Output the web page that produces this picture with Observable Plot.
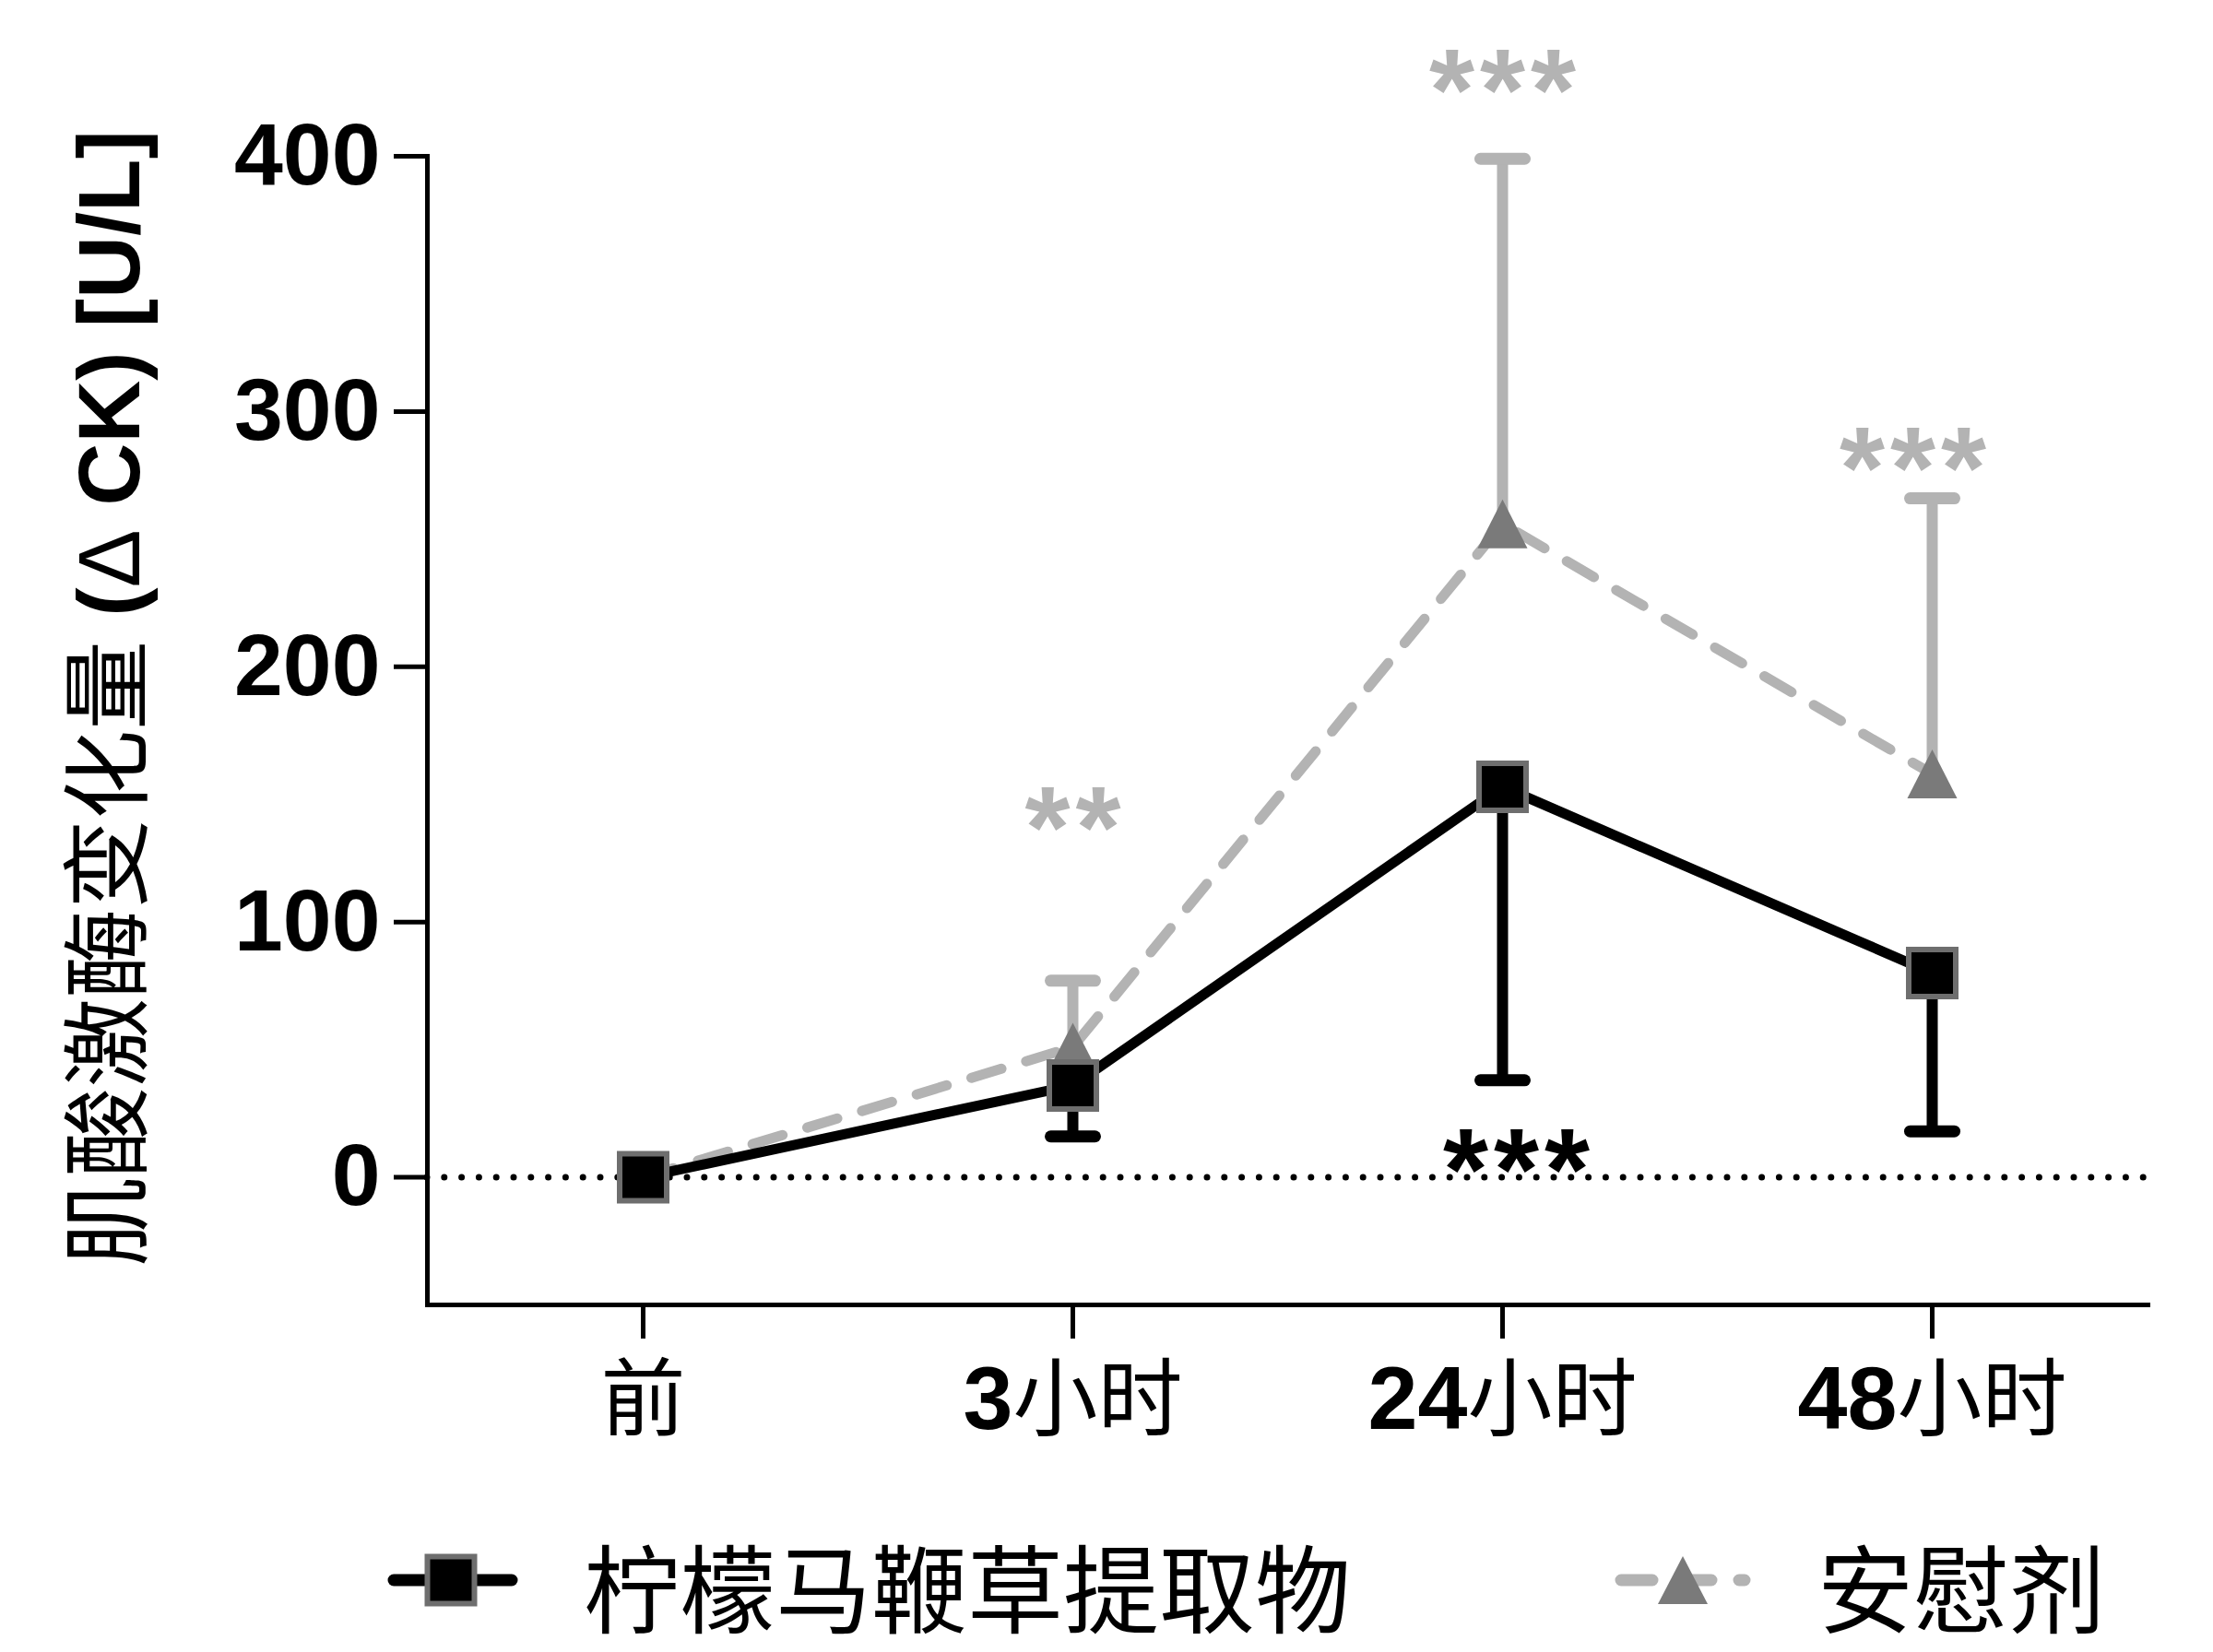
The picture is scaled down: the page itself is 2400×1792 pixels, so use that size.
<!DOCTYPE html>
<html><head><meta charset="utf-8">
<script src="https://cdn.jsdelivr.net/npm/d3@7"></script>
<script src="https://cdn.jsdelivr.net/npm/@observablehq/plot@0.6"></script>
<style>
html,body{margin:0;padding:0;background:#fff;}
#chart svg{display:block;}
</style></head><body><div id="chart"></div><script>
// ---- data ----
const timepoints = ["前", "3小时", "24小时", "48小时"];
const seriesNames = ["柠檬马鞭草提取物", "安慰剂"];
const lemonMean = [0, 36, 153, 80];
const lemonLower = [null, 16, 38, 18];
const placeboMean = [0, 51, 256, 158];
const placeboUpper = [null, 77, 399, 266];
const yTicks = [0, 100, 200, 300, 400];
const yDomain = [-50, 400];
const yTitleCJK = "肌酸激酶变化量";
const yTitleDelta = "Δ";
const yTitleCK = "CK";
const yTitleUnit = "[U/L]";
const starTimes = ["3小时", "24小时", "48小时", "24小时"];
const starLabels = ["**", "***", "***", "***"];
const starSeries = ["安慰剂", "安慰剂", "安慰剂", "柠檬马鞭草提取物"];
const starLevels = [146, 435, 287, 12];

// ---- tables ----
const lemon = timepoints.map((t, i) => ({t, mean: lemonMean[i], err: lemonLower[i]}));
const placebo = timepoints.map((t, i) => ({t, mean: placeboMean[i], err: placeboUpper[i]}));
const stars = starTimes.map((t, i) => ({t, label: starLabels[i], series: starSeries[i], level: starLevels[i]}));

const GRAY = "#b3b3b3", TRI = "#7a7a7a", SQSTROKE = "#6e6e6e";
const NARROW = "'Liberation Sans Narrow', 'Liberation Sans', Arial, sans-serif";
const SANS = "'Liberation Sans', Arial, sans-serif";
const CJK = "'Noto Sans CJK SC', 'Noto Sans', sans-serif";

const squareSym = {draw(ctx, size) { const r = Math.sqrt(size / Math.PI); ctx.rect(-r, -r, 2 * r, 2 * r); }};
const triSym = {draw(ctx, size) { const r = Math.sqrt(size / Math.PI); ctx.moveTo(0, -r * 0.98); ctx.lineTo(r, r * 0.98); ctx.lineTo(-r, r * 0.98); ctx.closePath(); }};
const capSym = {draw(ctx, size) { const r = Math.sqrt(size / Math.PI); ctx.moveTo(-r, 0); ctx.lineTo(r, 0); }};

const W = 2400, H = 1600;
const starOpts = {x: "t", y: "level", text: "label", fontSize: 126, fontWeight: "bold", fontFamily: SANS, dy: 28};

const svg = Plot.plot({
  width: W, height: H,
  marginLeft: 463, marginRight: 71, marginTop: 169, marginBottom: H - 1415,
  x: {type: "point", domain: timepoints, padding: 0.5, label: null},
  y: {domain: yDomain, label: null},
  style: {background: "white", overflow: "visible", fontFamily: SANS, color: "black"},
  marks: [
    Plot.ruleY([0], {stroke: "black", strokeWidth: 7, strokeDasharray: "0,18.8", strokeLinecap: "round"}),
    Plot.frame({anchor: "left", strokeWidth: 5, strokeLinecap: "square"}),
    Plot.frame({anchor: "bottom", strokeWidth: 5, strokeLinecap: "square"}),
    Plot.axisY({ticks: yTicks, tickSize: 36, tickPadding: 15, fontSize: 95, fontWeight: "bold", fontFamily: NARROW, strokeWidth: 5, label: null, tickFormat: d => String(d)}),
    Plot.axisX({tickSize: 37, tickPadding: 30, fontSize: 95, strokeWidth: 5, label: null}),
    // placebo
    Plot.ruleX(placebo.filter(d => d.err != null), {x: "t", y1: "mean", y2: "err", stroke: GRAY, strokeWidth: 12}),
    Plot.dot(placebo.filter(d => d.err != null), {x: "t", y: "err", symbol: capSym, r: 24, fill: "none", stroke: GRAY, strokeWidth: 13, strokeLinecap: "round"}),
    Plot.line(placebo, {x: "t", y: "mean", stroke: GRAY, strokeWidth: 11, strokeDasharray: "34,28", strokeLinecap: "round"}),
    Plot.dot(placebo, {x: "t", y: "mean", symbol: triSym, r: 27, fill: TRI, stroke: "none"}),
    // lemon verbena
    Plot.ruleX(lemon.filter(d => d.err != null), {x: "t", y1: "mean", y2: "err", stroke: "black", strokeWidth: 12}),
    Plot.dot(lemon.filter(d => d.err != null), {x: "t", y: "err", symbol: capSym, r: 24, fill: "none", stroke: "black", strokeWidth: 13, strokeLinecap: "round"}),
    Plot.line(lemon, {x: "t", y: "mean", stroke: "black", strokeWidth: 11, strokeLinejoin: "miter"}),
    Plot.dot(lemon, {x: "t", y: "mean", symbol: squareSym, r: 25.5, fill: "black", stroke: SQSTROKE, strokeWidth: 6}),
    // significance stars
    Plot.text(stars.filter(d => d.series === seriesNames[1] && d.t !== timepoints[3]), {...starOpts, fill: GRAY, dx: 3}),
    Plot.text(stars.filter(d => d.series === seriesNames[1] && d.t === timepoints[3]), {...starOpts, fill: GRAY, dx: -18}),
    Plot.text(stars.filter(d => d.series === seriesNames[0]), {...starOpts, fill: "black", dx: 18}),
    // y title
    Plot.text([yTitleCJK], {frameAnchor: "left", textAnchor: "middle", rotate: -90, dx: 120 - 463, dy: 757 - (169 + 1415) / 2, fontSize: 94, fill: "black", text: d => d})
  ]
});

const s = d3.select(svg);
// star letter spacing
s.selectAll("text").filter(function() { return /^\*+$/.test(this.textContent); }).style("letter-spacing", "6px");
// y tick labels
s.selectAll("g[aria-label='y-axis tick label']").attr("font-family", NARROW).attr("font-weight", "bold");
// x tick labels: bold digits + regular CJK
s.selectAll("g[aria-label='x-axis tick label'] text").each(function() {
  const t = this.textContent;
  const m = t.match(/^(\d*)(.*)$/);
  const el = d3.select(this);
  el.text(null);
  if (m[1]) el.append("tspan").attr("font-family", NARROW).attr("font-weight", "bold").attr("font-size", 97).text(m[1]);
  if (m[2]) el.append("tspan").attr("font-family", CJK).attr("font-weight", "normal").attr("font-size", 92).text(m[2]);
});
// y title: mixed fonts
s.selectAll("text").filter(function() { return this.textContent === yTitleCJK; }).each(function() {
  const el = d3.select(this);
  el.text(null);
  el.append("tspan").attr("font-family", CJK).attr("font-weight", "normal").attr("font-size", 97).text(yTitleCJK);
  el.append("tspan").attr("font-family", SANS).attr("font-weight", "bold").attr("font-size", 94).text(" (");
  el.append("tspan").attr("font-family", SANS).attr("font-weight", "normal").attr("font-size", 94).text(yTitleDelta);
  el.append("tspan").attr("font-family", SANS).attr("font-weight", "bold").attr("font-size", 94).text(" " + yTitleCK + ") " + yTitleUnit);
});

document.getElementById("chart").appendChild(svg);

// ---- legend (below the plot) ----
const LH = 1792 - H;
const leg = d3.select("#chart").append("svg").attr("width", W).attr("height", LH).style("background", "white");
const ly = 114;
const g1 = leg.append("g");
g1.append("line").attr("x1", 427).attr("x2", 555).attr("y1", ly).attr("y2", ly).attr("stroke", "black").attr("stroke-width", 13).attr("stroke-linecap", "round");
g1.append("rect").attr("x", 489 - 25.5).attr("y", ly - 25.5).attr("width", 51).attr("height", 51).attr("fill", "black").attr("stroke", SQSTROKE).attr("stroke-width", 6);
g1.append("text").attr("x", 633).attr("y", ly + 4).attr("dominant-baseline", "central").attr("font-family", CJK).attr("font-size", 104).attr("fill", "black").text(seriesNames[0]);
const g2 = leg.append("g");
g2.append("line").attr("x1", 1758).attr("x2", 1892).attr("y1", ly).attr("y2", ly).attr("stroke", GRAY).attr("stroke-width", 13).attr("stroke-linecap", "round").attr("stroke-dasharray", "34,30");
g2.append("path").attr("d", `M1825,${ly - 26}L1852,${ly + 26}L1798,${ly + 26}Z`).attr("fill", TRI);
g2.append("text").attr("x", 1971).attr("y", ly + 4).attr("dominant-baseline", "central").attr("font-family", CJK).attr("font-size", 104).attr("fill", "black").text(seriesNames[1]);
</script></body></html>
